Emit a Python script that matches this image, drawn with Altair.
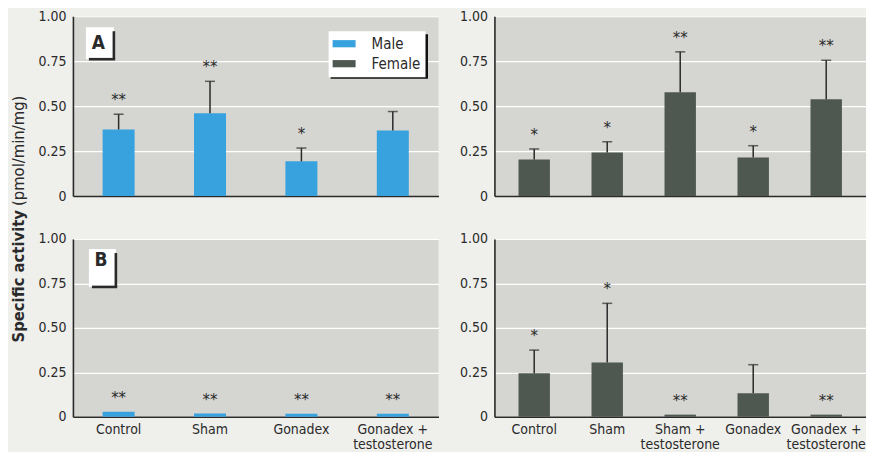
import altair as alt
import pandas as pd

FONT = "'Liberation Sans Narrow', 'DejaVu Sans Condensed', 'Roboto Condensed', 'Arial Narrow', sans-serif"

# ---- data ----
male_cats = ["Control", "Sham", "Gonadex", "Gonadex + testosterone"]
female_cats = ["Control", "Sham", "Sham + testosterone", "Gonadex", "Gonadex + testosterone"]

groups = ["Male", "Female"]
group_colors = ["#38a2de", "#4f5751"]

# Panel A
a_male = [0.370, 0.460, 0.193, 0.365]
a_male_err = [0.455, 0.638, 0.267, 0.470]
a_male_sig = ["**", "**", "*", ""]

a_female = [0.203, 0.242, 0.577, 0.214, 0.538]
a_female_err = [0.262, 0.302, 0.802, 0.280, 0.755]
a_female_sig = ["*", "*", "**", "*", "**"]

# Panel B
b_male = [0.028, 0.018, 0.017, 0.017]
b_male_err = [None, None, None, None]
b_male_sig = ["**", "**", "**", "**"]

b_female = [0.245, 0.305, 0.012, 0.132, 0.012]
b_female_err = [0.375, 0.638, None, 0.293, None]
b_female_sig = ["*", "*", "**", "", "**"]

y_ticks = [0, 0.25, 0.5, 0.75, 1.0]
y_title_bold = "Specific activity"
y_title_rest = "(pmol/min/mg)"

PLOT_BG = "#d5d5d2"
PAGE_BG = "#efefec"
INK = "#2a2a2a"


def make_panel(cats, vals, errs, sigs, group, width, height, show_labels,
               pi, po, letter=None, lbox=None, legend=None, legend_shadow=None,
               ytitle=None):
    tops = [e if e is not None else v for v, e in zip(vals, errs)]
    df = pd.DataFrame({"cat": cats, "value": vals, "err": errs, "top": tops, "sig": sigs})
    df["group"] = group

    x = alt.X("cat:N", sort=cats, title=None,
              scale=alt.Scale(paddingInner=pi, paddingOuter=po),
              axis=alt.Axis(labels=show_labels, ticks=False, grid=False, labelAngle=0,
                            domainColor=INK, domainWidth=1.6, labelPadding=6,
                            labelLineHeight=15,
                            labelExpr="split(replace(datum.label, '+ ', '+|'), '|')"))
    y = alt.Y("value:Q", title=None, scale=alt.Scale(domain=[0, 1], nice=False),
              axis=alt.Axis(values=y_ticks, ticks=False, grid=True, gridColor="white",
                            gridWidth=1.2, domainColor=INK, domainWidth=1.6, labelPadding=7,
                            labelExpr="datum.value == 0 ? '0' : format(datum.value, '.2f')"))

    base = alt.Chart(df)
    bars = base.mark_bar().encode(
        x=x, y=y,
        color=alt.Color("group:N", scale=alt.Scale(domain=groups, range=group_colors),
                        legend=legend),
    )
    has_err = base.transform_filter("isValid(datum.err)")
    whisk = has_err.mark_rule(color=INK, strokeWidth=1.5).encode(
        x=alt.X("cat:N", sort=cats), y="value:Q", y2="err:Q")
    caps = has_err.mark_tick(color=INK, size=10, thickness=1.5).encode(
        x=alt.X("cat:N", sort=cats), y="err:Q")
    stars = base.mark_text(baseline="alphabetic", dy=-9, fontSize=15, color=INK,
                           font="DejaVu Sans").encode(
        x=alt.X("cat:N", sort=cats), y="top:Q", text="sig:N")

    layers = [bars, whisk, caps, stars]

    if letter is not None:
        bx0, bx1, by0, by1, lx, ly = lbox
        ldf = pd.DataFrame({"letter": [letter]})
        lb = alt.Chart(ldf)
        layers.append(lb.mark_rect(color="white").encode(
            x=alt.value(bx0), x2=alt.value(bx1), y=alt.value(by0), y2=alt.value(by1)))
        layers.append(lb.mark_rule(color=INK, strokeWidth=2.6).encode(
            x=alt.value(bx1), y=alt.value(by0 + 4), y2=alt.value(by1)))
        layers.append(lb.mark_rule(color=INK, strokeWidth=2.6).encode(
            x=alt.value(bx0 + 3), x2=alt.value(bx1 + 1.3), y=alt.value(by1)))
        layers.append(lb.mark_text(fontSize=19, fontWeight="bold", font=FONT,
                                   color=INK, align="center", baseline="middle").encode(
            text="letter:N", x=alt.value(lx), y=alt.value(ly)))

    if legend_shadow is not None:
        sx0, sx1, sy0, sy1 = legend_shadow
        sdf = pd.DataFrame({"k": [1]})
        sb = alt.Chart(sdf)
        layers.append(sb.mark_rule(color="#111", strokeWidth=3).encode(
            x=alt.value(sx1), y=alt.value(sy0), y2=alt.value(sy1)))
        layers.append(sb.mark_rule(color="#111", strokeWidth=3).encode(
            x=alt.value(sx0), x2=alt.value(sx1 + 1.5), y=alt.value(sy1)))

    if ytitle is not None:
        tx, tsplit = ytitle
        tdf = pd.DataFrame({"bold": [y_title_bold], "rest": [y_title_rest]})
        tb = alt.Chart(tdf)
        layers.append(tb.mark_text(angle=270, align="right", baseline="middle", fontSize=16.5,
                                   fontWeight="bold", font=FONT, color=INK).encode(
            text="bold:N", x=alt.value(tx), y=alt.value(tsplit + 2)))
        layers.append(tb.mark_text(angle=270, align="left", baseline="middle", fontSize=16.5,
                                   font=FONT, color=INK).encode(
            text="rest:N", x=alt.value(tx), y=alt.value(tsplit - 2)))

    return alt.layer(*layers).properties(
        width=width, height=height,
        view=alt.ViewBackground(fill=PLOT_BG, stroke=None))


legend_a = alt.Legend(
    title=None, orient="none", legendX=256, legendY=15,
    fillColor="white", padding=5, strokeColor=None,
    symbolType="M-2.3,-0.72H2.3V0.72H-2.3Z", symbolSize=100, symbolStrokeWidth=0,
    symbolOffset=3, labelOffset=20, labelFont=FONT, labelFontSize=15,
    labelColor=INK, rowPadding=4,
)

W_L, W_R = 366, 372
H_T, H_B = 180, 178

tl = make_panel(male_cats, a_male, a_male_err, a_male_sig, "Male", W_L, H_T, False,
                0.65, 0.325, letter="A", lbox=(13, 41, 11, 43, 25.5, 26.5),
                legend=legend_a, legend_shadow=(258, 354, 18, 61))
tr = make_panel(female_cats, a_female, a_female_err, a_female_sig, "Female", W_R, H_T, False,
                0.57, 0.33, legend=None)
bl = make_panel(male_cats, b_male, b_male_err, b_male_sig, "Male", W_L, H_B, True,
                0.65, 0.325, letter="B", lbox=(16, 43, 10, 48, 28, 21.5), legend=None,
                ytitle=(-54, -31))
br = make_panel(female_cats, b_female, b_female_err, b_female_sig, "Female", W_R, H_B, True,
                0.57, 0.33, legend=None)

chart = alt.concat(
    tl, tr, bl, br, columns=2, bounds="flush",
    spacing={"row": 43, "column": 56},
).resolve_scale(color="independent").resolve_legend(color="independent").properties(
    padding={"left": 2, "top": 1, "right": 0, "bottom": 0},
    background=PAGE_BG,
).configure_view(stroke=None).configure_axis(
    labelFont=FONT, labelFontSize=14, labelColor=INK,
)

chart.save("out.html", embed_options={"renderer": "svg", "actions": False})
